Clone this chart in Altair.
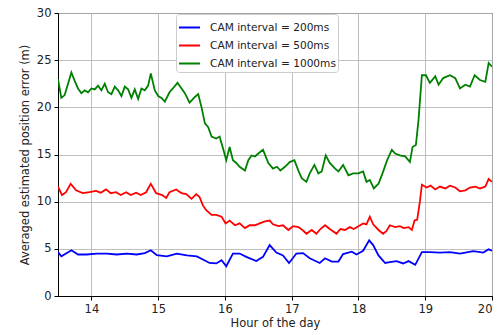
import altair as alt
import pandas as pd

green_hours = [13.50, 13.55, 13.60, 13.65, 13.70, 13.75, 13.80, 13.85, 13.90, 13.95,
               14.00, 14.05, 14.10, 14.15, 14.20, 14.25, 14.30, 14.35, 14.40, 14.45,
               14.50, 14.55, 14.60, 14.65, 14.70, 14.75, 14.80, 14.85, 14.89, 14.95,
               15.00, 15.05, 15.10, 15.17, 15.22, 15.29, 15.35, 15.40, 15.47, 15.55,
               15.60, 15.65, 15.70, 15.75, 15.80, 15.87, 15.92, 15.97, 16.02, 16.07,
               16.12, 16.17, 16.22, 16.30, 16.35, 16.40, 16.45, 16.50, 16.57, 16.65,
               16.72, 16.78, 16.83, 16.90, 16.97, 17.04, 17.10, 17.15, 17.22, 17.27,
               17.34, 17.40, 17.45, 17.51, 17.57, 17.65, 17.70, 17.77, 17.85, 17.92,
               18.00, 18.07, 18.12, 18.17, 18.23, 18.30, 18.36, 18.43, 18.50, 18.55,
               18.62, 18.70, 18.77, 18.81, 18.86, 18.90, 18.95, 19.01, 19.07, 19.15,
               19.20, 19.27, 19.37, 19.45, 19.52, 19.60, 19.67, 19.74, 19.82, 19.90,
               19.95, 20.00]
green_values = [23.0, 21.0, 21.3, 22.5, 23.7, 22.8, 22.0, 21.5, 21.8, 21.6,
                22.0, 21.9, 22.3, 21.8, 22.5, 21.6, 21.4, 22.2, 21.8, 21.2,
                22.2, 21.9, 21.0, 21.9, 20.9, 22.0, 21.8, 22.3, 23.6, 21.8,
                21.2, 21.0, 20.6, 21.6, 22.0, 22.6, 22.0, 21.5, 20.5, 21.1,
                21.4, 20.0, 18.3, 17.9, 16.9, 16.7, 16.9, 15.7, 14.4, 15.8,
                14.4, 14.1, 13.7, 13.3, 14.4, 14.9, 14.8, 15.1, 15.5, 14.1,
                13.5, 13.7, 13.3, 13.7, 14.2, 14.4, 13.3, 12.5, 12.1, 13.0,
                13.9, 13.0, 13.2, 14.9, 14.1, 13.5, 13.2, 13.9, 12.8, 13.0,
                13.0, 13.2, 12.1, 12.3, 11.4, 11.9, 13.0, 14.4, 15.5, 15.1,
                14.9, 14.8, 14.2, 15.8, 16.0, 18.7, 23.4, 23.4, 22.6, 23.3,
                22.4, 23.1, 23.4, 23.1, 22.0, 22.4, 22.2, 23.4, 22.9, 22.7,
                24.7, 24.3]

red_hours = [13.50, 13.56, 13.62, 13.69, 13.77, 13.87, 13.97, 14.07, 14.14, 14.22,
             14.29, 14.37, 14.44, 14.52, 14.59, 14.67, 14.74, 14.82, 14.89, 14.97,
             15.06, 15.12, 15.17, 15.27, 15.35, 15.42, 15.50, 15.57, 15.62, 15.67,
             15.72, 15.80, 15.87, 15.95, 16.01, 16.07, 16.15, 16.22, 16.30, 16.37,
             16.45, 16.52, 16.60, 16.67, 16.72, 16.80, 16.87, 16.95, 17.02, 17.10,
             17.16, 17.22, 17.30, 17.37, 17.43, 17.50, 17.57, 17.63, 17.67, 17.73,
             17.80, 17.87, 17.93, 18.00, 18.07, 18.12, 18.17, 18.22, 18.30, 18.37,
             18.42, 18.47, 18.55, 18.62, 18.68, 18.75, 18.80, 18.84, 18.88, 18.92,
             18.95, 19.02, 19.08, 19.15, 19.22, 19.30, 19.37, 19.45, 19.52, 19.60,
             19.67, 19.75, 19.82, 19.90, 19.95, 20.00]
red_values = [11.6, 10.7, 11.0, 11.9, 11.2, 10.9, 11.0, 11.15, 10.95, 11.3,
              10.9, 11.0, 10.7, 11.0, 10.7, 10.95, 10.7, 11.0, 11.9, 10.9,
              10.7, 10.4, 11.0, 11.3, 10.9, 10.8, 10.3, 10.8, 10.5, 9.6,
              9.1, 8.6, 8.6, 8.4, 7.7, 8.0, 7.5, 7.7, 7.2, 7.5,
              7.5, 7.7, 7.9, 8.0, 7.6, 7.4, 7.5, 7.0, 7.4, 7.3,
              7.0, 6.6, 7.0, 6.6, 7.1, 7.5, 7.1, 6.8, 6.6, 7.1,
              7.0, 7.3, 7.1, 7.4, 7.7, 7.6, 8.4, 7.6, 7.0, 6.6,
              6.9, 7.5, 7.3, 7.4, 7.2, 7.3, 7.0, 8.0, 8.1, 10.0,
              11.8, 11.5, 11.7, 11.3, 11.6, 11.4, 11.7, 11.5, 11.1, 11.2,
              11.5, 11.6, 11.4, 11.6, 12.4, 12.1]

blue_hours = [13.50, 13.55, 13.62, 13.70, 13.80, 13.93, 14.08, 14.23, 14.38, 14.53,
              14.68, 14.80, 14.89, 14.98, 15.13, 15.28, 15.43, 15.58, 15.67, 15.77,
              15.87, 15.95, 16.02, 16.12, 16.22, 16.32, 16.47, 16.57, 16.67, 16.77,
              16.87, 16.96, 17.07, 17.17, 17.27, 17.42, 17.50, 17.60, 17.70, 17.77,
              17.90, 17.97, 18.07, 18.16, 18.22, 18.30, 18.40, 18.47, 18.57, 18.67,
              18.75, 18.85, 18.95, 19.07, 19.22, 19.37, 19.52, 19.72, 19.87, 19.95,
              20.00]
blue_values = [4.67, 4.2, 4.5, 4.85, 4.4, 4.4, 4.5, 4.5, 4.4, 4.5,
               4.4, 4.55, 4.85, 4.32, 4.2, 4.5, 4.3, 4.2, 3.87, 3.5,
               3.45, 3.8, 3.15, 4.5, 4.5, 4.15, 3.7, 4.15, 5.4, 4.6,
               4.3, 3.5, 4.5, 4.55, 4.0, 3.5, 4.0, 3.65, 3.65, 4.45,
               4.7, 4.4, 4.8, 5.9, 5.4, 4.3, 3.5, 3.6, 3.7, 3.45,
               3.7, 3.3, 4.65, 4.65, 4.6, 4.65, 4.5, 4.75, 4.6, 4.95,
               4.8]

series_names = ["CAM interval = 200ms", "CAM interval = 500ms", "CAM interval = 1000ms"]
series_colors = ["#0000ff", "#ff0000", "#008000"]

rows = []
for name, hs, vs in [(series_names[0], blue_hours, blue_values),
                     (series_names[1], red_hours, red_values),
                     (series_names[2], green_hours, green_values)]:
    for i, (h, v) in enumerate(zip(hs, vs)):
        rows.append({"hour": h, "error": v, "series": name, "order": i})
df = pd.DataFrame(rows)

font = "DejaVu Sans"

chart = alt.Chart(df).mark_line(strokeWidth=1.8, clip=True).encode(
    x=alt.X("hour:Q",
            scale=alt.Scale(domain=[13.5, 20], nice=False, zero=False),
            axis=alt.Axis(title="Hour of the day", values=[14, 15, 16, 17, 18, 19, 20],
                          format="d", titlePadding=3)),
    y=alt.Y("error:Q",
            scale=alt.Scale(domain=[0, 30], nice=False),
            axis=alt.Axis(title="Averaged estimated position error (m)",
                          values=[0, 5, 10, 15, 20, 25, 30], titlePadding=6)),
    color=alt.Color("series:N",
                    scale=alt.Scale(domain=series_names, range=series_colors),
                    legend=alt.Legend(title=None, orient="none", legendX=118, legendY=1,
                                      symbolType="stroke", symbolSize=441,
                                      symbolStrokeWidth=2, labelFontSize=10.6,
                                      labelFont=font, labelColor="#222222",
                                      labelOffset=9,
                                      rowPadding=-6, padding=2,
                                      fillColor="white", strokeColor="#cccccc",
                                      cornerRadius=3, labelLimit=300)),
    order="order:Q",
).properties(
    width=434, height=283,
    padding={"left": 58, "top": 13, "right": 5, "bottom": 39},
    autosize=alt.AutoSizeParams(type="none"),
).configure_view(
    stroke="#000000", strokeWidth=1
).configure_axis(
    grid=True, gridColor="#b8b8b8", gridWidth=0.9,
    domainColor="#000000", domainWidth=1,
    tickColor="#000000", tickSize=4,
    labelFont=font, labelFontSize=11.5, labelColor="#222222",
    titleFont=font, titleFontSize=11.5, titleFontWeight="normal", titleColor="#222222",
    labelPadding=3,
)

chart.save("out.html", embed_options={"renderer": "svg", "actions": False})
